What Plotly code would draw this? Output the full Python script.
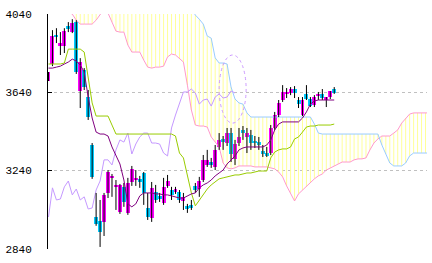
import plotly.graph_objects as go

# ---- data ----
opens = [3698,3785,3933,3882,3877,3979,3948,3999,3647,3754,
         3616,3371,3003,2983,2978,3126,3203,3157,3029,3157,
         3024,3182,3192,3198,3228,3049,2998,3131,3111,3075,
         3162,3141,3131,3131,3085,3060,3065,3162,3146,3192,
         3269,3284,3259,3361,3402,3381,3432,3300,3381,3448,
         3412,3422,3392,3386,3340,3330,3330,3458,3524,3601,
         3632,3637,3657,3601,3524,3632,3606,3575,3621,3632,
         3601,3616,3657]
highs = [3744,3958,3968,3948,3968,3999,4014,4009,3815,3764,
         3652,3381,3126,3090,3126,3243,3223,3192,3172,3177,
         3203,3264,3243,3213,3233,3126,3182,3167,3126,3203,
         3218,3157,3157,3141,3126,3070,3090,3177,3208,3320,
         3346,3305,3371,3432,3417,3458,3458,3397,3458,3468,
         3458,3448,3417,3412,3371,3361,3473,3540,3601,3677,
         3662,3667,3672,3616,3616,3677,3616,3626,3642,3657,
         3616,3647,3667]
lows = [3698,3774,3892,3831,3841,3948,3943,3734,3560,3652,
        3499,3198,2958,2850,2906,3100,3106,3039,3019,3055,
        3014,3162,3162,3152,3065,2988,2978,3075,3080,3065,
        3152,3090,3121,3075,3039,3024,3039,3126,3106,3182,
        3259,3254,3243,3346,3346,3366,3284,3269,3366,3397,
        3330,3346,3356,3346,3310,3310,3320,3448,3514,3591,
        3611,3626,3611,3560,3519,3601,3565,3565,3601,3601,
        3565,3606,3632]
closes = [3744,3928,3923,3892,3953,3963,3994,3744,3795,3667,
          3514,3208,2968,2927,3116,3233,3208,3167,3167,3080,
          3177,3249,3203,3182,3126,3003,3152,3090,3095,3157,
          3187,3116,3146,3090,3106,3044,3049,3141,3187,3295,
          3295,3269,3346,3397,3386,3432,3325,3376,3412,3432,
          3432,3381,3381,3376,3330,3315,3458,3524,3586,3642,
          3642,3657,3637,3580,3601,3606,3570,3616,3632,3611,
          3616,3647,3637]
tenkan = [3764,3764,3769,3774,3785,3795,3810,3800,3780,3744,
          3616,3509,3437,3427,3427,3417,3361,3320,3274,3192,
          3070,3055,3070,3111,3126,3126,3126,3121,3121,3116,
          3116,3111,3106,3100,3100,3111,3121,3126,3152,3167,
          3177,3192,3213,3228,3243,3274,3295,3315,3346,3356,
          3361,3361,3361,3361,3361,3371,3397,3448,3478,3489,
          3489,3489,3489,3489,3509,3540,3580,3596,3601,3601,
          3601,3601,3601]
kijun = [3785,3785,3785,3785,3790,3861,3861,3861,3861,3846,
         3718,3586,3519,3519,3519,3519,3473,3427,3427,3427,
         3427,3427,3427,3427,3427,3427,3427,3427,3427,3427,
         3427,3427,3417,3330,3305,3213,3126,3060,3090,3116,
         3146,3167,3182,3198,3203,3208,3213,3218,3218,3223,
         3228,3228,3233,3238,3238,3238,3305,3335,3346,3351,
         3351,3361,3402,3412,3437,3463,3468,3468,3473,3473,
         3473,3473,3478]
senkou_a = [4086,4081,4071,4071,4060,4050,4040,4009,3989,3989,
            3989,3989,4009,4040,4065,4045,3999,3953,3948,3948,
            3882,3846,3846,3846,3805,3769,3764,3769,3769,3774,
            3821,3836,3831,3815,3795,3677,3550,3473,3468,3468,
            3463,3412,3386,3361,3279,3254,3249,3254,3264,3264,
            3264,3264,3259,3259,3259,3259,3254,3249,3233,3208,
            3162,3126,3085,3121,3141,3157,3177,3198,3213,3223,
            3243,3254,3264,3274,3284,3284,3284,3295,3300,3300,
            3305,3346,3381,3402,3417,3417,3417,3432,3448,3483,
            3509,3529,3535,3535,3535,3535,3535]
senkou_b = ([4165] * 21 + [4140] * 13 + [4110, 4100, 4071,
            4035, 4014, 3989, 3928, 3917, 3816, 3790, 3790, 3785,
            3667, 3606, 3586, 3580, 3535] + [3514] * 16 + [3478, 3432]
            + [3427] * 15 + [3371, 3325, 3279, 3264, 3264, 3264, 3279, 3315,
            3330, 3330, 3330, 3330, 3330])
SHIFT = 25
y_ticks = [2840, 3240, 3640, 4040]

# ---- styles ----
UP = "#ff00ff"
DOWN = "#00ccff"
PINK = "#ff99cc"
BLUE = "#99ccff"
HATCH_Y = "#ffff99"
HATCH_B = "#ffff99"

fig = go.Figure()

# cloud hatch
hx_y, hy_y, hx_b, hy_b = [], [], [], []
for i, (a, b) in enumerate(zip(senkou_a, senkou_b)):
    if b >= a:
        hx_y += [i, i, None]; hy_y += [a, b, None]
    else:
        hx_b += [i, i, None]; hy_b += [a, b, None]
fig.add_trace(go.Scatter(x=hx_y, y=hy_y, mode="lines",
                         line=dict(color=HATCH_Y, width=1), hoverinfo="skip"))
fig.add_trace(go.Scatter(x=hx_b, y=hy_b, mode="lines",
                         line=dict(color=HATCH_B, width=1), hoverinfo="skip"))
xs_cloud = list(range(len(senkou_a)))
fig.add_trace(go.Scatter(x=xs_cloud, y=senkou_a, mode="lines",
                         line=dict(color=PINK, width=1)))
fig.add_trace(go.Scatter(x=xs_cloud, y=senkou_b, mode="lines",
                         line=dict(color=BLUE, width=1)))

# lagging span
n = len(closes)
fig.add_trace(go.Scatter(x=[k - SHIFT for k in range(SHIFT, n)],
                         y=closes[SHIFT:], mode="lines",
                         line=dict(color="#c599ff", width=1)))

# wicks
wx, wy = [], []
for k in range(n):
    wx += [k, k, None]; wy += [lows[k], highs[k], None]
fig.add_trace(go.Scatter(x=wx, y=wy, mode="lines",
                         line=dict(color="black", width=1)))

# bodies
base = [min(o, c) for o, c in zip(opens, closes)]
height = [max(abs(c - o), 5) for o, c in zip(opens, closes)]
colors = [UP if c >= o else DOWN for o, c in zip(opens, closes)]
fig.add_trace(go.Bar(x=list(range(n)), y=height, base=base, width=1.0,
                     marker=dict(color=colors, line=dict(width=0))))

# kijun / tenkan
fig.add_trace(go.Scatter(x=list(range(n)), y=kijun, mode="lines",
                         line=dict(color="#99cc00", width=1)))
fig.add_trace(go.Scatter(x=list(range(n)), y=tenkan, mode="lines",
                         line=dict(color="#800080", width=1)))

# highlight ellipse
fig.add_shape(type="circle", xref="x", yref="y", x0=43.0, x1=49.8,
              y0=3483, y1=3831, line=dict(color="#cc99ff", width=1, dash="dot"))

fig.update_layout(width=432, height=263,
                  margin=dict(l=45, r=5, t=14, b=14),
                  plot_bgcolor="white", paper_bgcolor="white",
                  showlegend=False, barmode="overlay", bargap=0)
fig.update_xaxes(range=[-0.125, 95.375], showgrid=False, showticklabels=False,
                 zeroline=False, showline=False, ticks="")
fig.update_yaxes(range=[2839.5, 4040.5], tickvals=y_ticks,
                 ticktext=[str(v) for v in y_ticks],
                 showgrid=True, gridcolor="#c0c0c0", griddash="3px,3px",
                 gridwidth=1, showline=True, linecolor="black", linewidth=1,
                 ticks="inside", ticklen=4, tickcolor="black",
                 tickfont=dict(family="Liberation Mono", size=11, color="black"),
                 ticklabelstandoff=13, zeroline=False)

fig.write_html("out.html")
